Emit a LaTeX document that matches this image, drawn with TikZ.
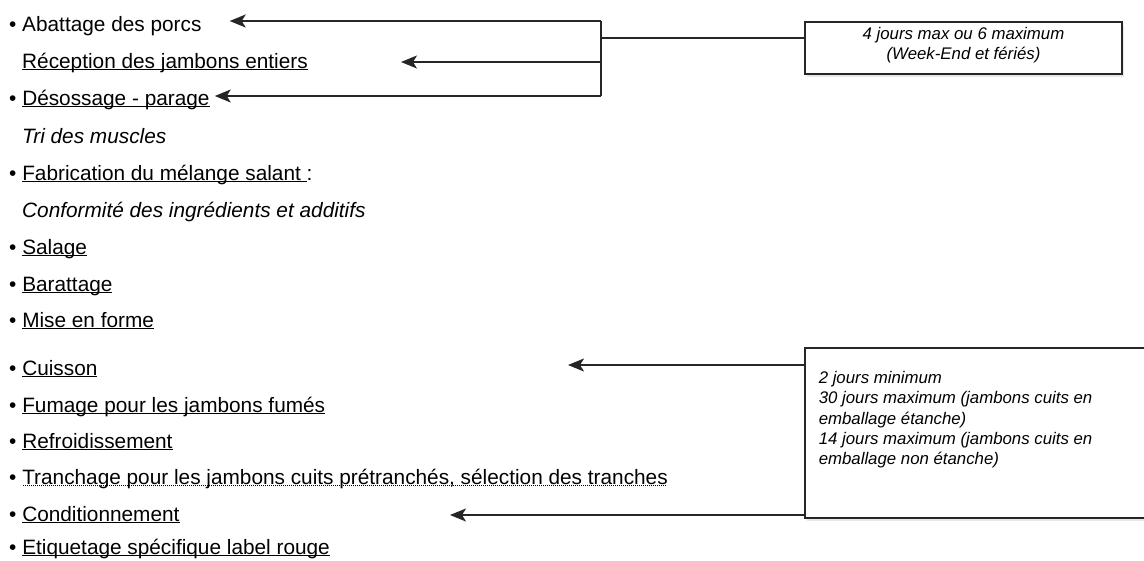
\documentclass[tikz,border=0pt]{standalone}
\usepackage{fontspec}
\setmainfont{Liberation Sans}
\usetikzlibrary{arrows.meta,calc,shadows}
\definecolor{jbgray}{HTML}{262626}
% soulignement simple et pointille
\newcommand{\souligne}[1]{\setbox0=\hbox{#1}\rlap{\rule[-2.4pt]{\wd0}{1pt}}\box0}
\newcommand{\pointille}[1]{\setbox0=\hbox{#1}\rlap{\raisebox{-2.4pt}{\hbox to \wd0{\leaders\hbox to 2pt{\hss\rule{1pt}{1pt}\hss}\hfill}}}\box0}

\begin{document}
\begin{tikzpicture}[
    x=1pt,
    y=-1pt,
    item/.style={anchor=base west, inner sep=0pt, font=\fontsize{20.8}{25}\selectfont},
    note/.style={item, font=\fontsize{20.8}{25}\selectfont\itshape},
    boite/.style={rectangle, draw=jbgray, line width=1.5pt, fill=white, font=\fontsize{16.8}{20.2}\selectfont\itshape, drop shadow={opacity=0.18, shadow xshift=2pt, shadow yshift=-3pt}},
    fleche/.style={-{Stealth[length=16pt,width=13pt,inset=4pt]}, line width=1.5pt, draw=jbgray},
    trait/.style={line width=1.5pt, draw=jbgray}
  ]
    \path[use as bounding box, fill=white] (0,0) rectangle (1144,560);

    % etapes de fabrication
    \node[item] (abattage) at (9,31) {\textbullet\ Abattage des porcs};
    \node[item] (reception) at (22,68) {\souligne{Réception des jambons entiers}};
    \node[item] (desossage) at (9,105) {\textbullet\ \souligne{Désossage - parage}};
    \node[note] (tri) at (22,143) {Tri des muscles};
    \node[item] (fabrication) at (9,180) {\textbullet\ \souligne{Fabrication du mélange salant }:};
    \node[note] (conformite) at (22,217) {Conformité des ingrédients et additifs};
    \node[item] (salage) at (9,254) {\textbullet\ \souligne{Salage}};
    \node[item] (barattage) at (9,291) {\textbullet\ \souligne{Barattage}};
    \node[item] (miseforme) at (9,327) {\textbullet\ \souligne{Mise en forme}};
    \node[item] (cuisson) at (9,375) {\textbullet\ \souligne{Cuisson}};
    \node[item] (fumage) at (9,412) {\textbullet\ \souligne{Fumage pour les jambons fumés}};
    \node[item] (refroid) at (9,448) {\textbullet\ \souligne{Refroidissement}};
    \node[item] (tranchage) at (9,484) {\textbullet\ \pointille{Tranchage pour les jambons cuits prétranchés, sélection des tranches}};
    \node[item] (condition) at (9,521) {\textbullet\ \souligne{Conditionnement}};
    \node[item] (etiquetage) at (9,554) {\textbullet\ \souligne{Etiquetage spécifique label rouge}};

    % delais
    \node[boite, minimum width=317pt, minimum height=52pt, align=center] (delai1) at (963.5,48) {4 jours max ou 6 maximum\\(Week-End et fériés)\rule[-9pt]{0pt}{9pt}};
    \node[boite, anchor=north west, inner sep=0pt] (delai2) at (804,347) {\begin{minipage}[c][170pt][t]{350pt}\raggedright\leftskip=14pt
      \rule{0pt}{36pt}2 jours minimum\\
      30 jours maximum (jambons cuits en\\
      emballage étanche)\\
      14 jours maximum (jambons cuits en\\
      emballage non étanche)\end{minipage}};

    \coordinate (t0) at (601,38);
    \coordinate (t1) at (601,21);
    \coordinate (t2) at (601,62);
    \coordinate (t3) at (601,96);
    \coordinate (c1) at (568,365);
    \coordinate (c2) at (450,515);

    \draw[trait] (t0) -- (t0 -| delai1.west);
    \draw[trait] (t1) -- (t3);
    \draw[fleche] (t1) -- ([xshift=28pt]t1 -| abattage.east);
    \draw[fleche] (t2) -- ([xshift=93pt]t2 -| reception.east);
    \draw[fleche] (t3) -- ([xshift=5pt]t3 -| desossage.east);
    \draw[fleche] (c1 -| delai2.west) -- (c1);
    \draw[fleche] (c2 -| delai2.west) -- (c2);
  \end{tikzpicture}
\end{document}
